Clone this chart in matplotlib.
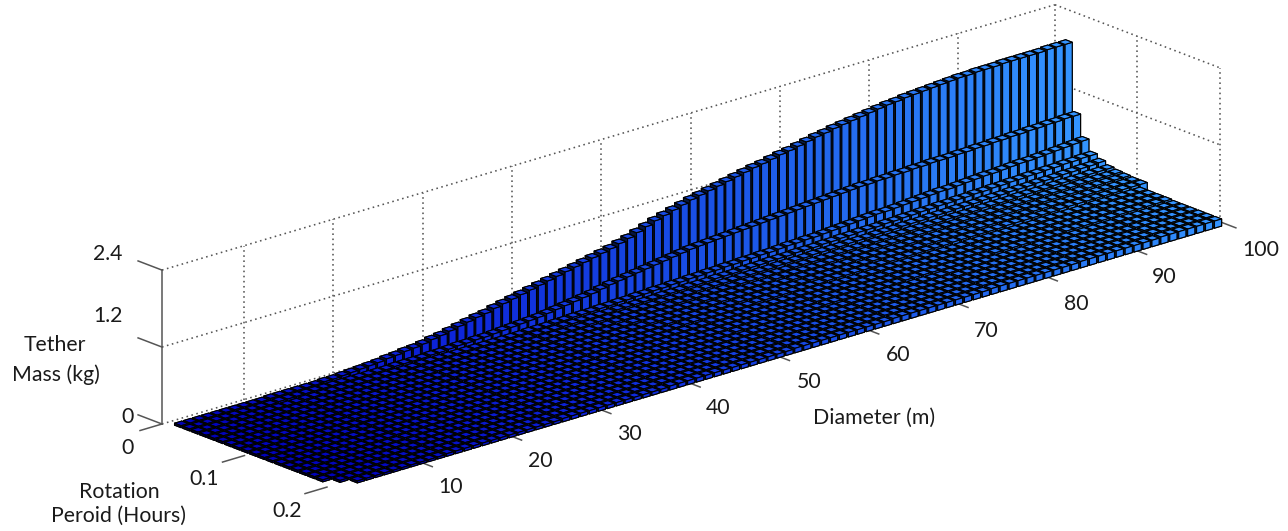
import matplotlib
matplotlib.use("Agg")
import matplotlib.pyplot as plt
import numpy as np
from matplotlib.colors import LinearSegmentedColormap
from mpl_toolkits.mplot3d import proj3d

# rotation period (hours) of each row of bars
period = [0.0127, 0.0228, 0.0329, 0.0430, 0.0531, 0.0632, 0.0733, 0.0834, 0.0935, 0.1036,
          0.1137, 0.1238, 0.1339, 0.1440, 0.1541, 0.1642, 0.1743, 0.1844, 0.1945, 0.2046]
# diameter (m) of each column of bars, the front rows stop at 99
diameter = list(range(1, 101))

# tether mass, in hundredths of a kg
row_01 = [3, 3, 3, 3, 3, 3, 3, 3, 3, 3, 4, 4, 4, 4, 4, 4, 5, 5, 6, 7,
          8, 9, 10, 12, 13, 15, 16, 18, 21, 23, 26, 29, 32, 35, 37, 41, 44, 47, 50, 53,
          56, 59, 62, 65, 68, 71, 74, 77, 80, 84, 88, 93, 98, 103, 107, 111, 115, 119, 122, 125,
          128, 131, 134, 137, 140, 142, 145, 148, 150, 153, 156, 159, 161, 164, 166, 168, 170, 172, 174, 176,
          177, 179, 180, 181, 182, 183, 184, 185, 185, 186, 186, 186, 187, 187, 187, 187, 187, 188, 188, 188]
row_02 = [3, 3, 3, 3, 3, 3, 3, 3, 3, 3, 4, 4, 4, 4, 4, 4, 4, 4, 4, 4,
          4, 4, 4, 5, 5, 5, 5, 6, 6, 7, 8, 8, 9, 9, 10, 11, 12, 13, 14, 15,
          17, 19, 21, 23, 25, 27, 30, 33, 35, 37, 39, 41, 43, 45, 47, 49, 51, 52, 53, 54,
          55, 56, 57, 58, 59, 60, 61, 62, 63, 64, 65, 66, 67, 68, 69, 70, 70, 71, 71, 72,
          72, 73, 73, 74, 74, 74, 75, 75, 76, 76, 77, 77, 78, 78, 79, 79, 80, 80, 81, 81]

# diameters 1 to 40 sit on the same low level for all the other rows
left_flat = [3, 3, 3, 3, 3, 3, 3, 3, 3, 3, 3, 3, 4, 4, 4, 4, 4, 4, 4, 4,
             4, 4, 4, 4, 4, 5, 5, 5, 5, 5, 5, 5, 5, 5, 5, 5, 5, 6, 6, 6]
# diameters 41 and up
right_03 = [7, 7, 8, 8, 8, 9, 9, 10, 10, 11, 11, 12, 12, 13, 13, 14, 14, 15, 15, 16,
            16, 17, 17, 18, 18, 19, 20, 20, 21, 21, 22, 23, 24, 25, 26, 27, 28, 28, 29, 30,
            31, 32, 33, 34, 34, 35, 36, 37, 38, 38, 39, 40, 41, 41, 42, 43, 44, 45, 46, 47]
right_04 = [7, 7, 7, 7, 7, 7, 8, 8, 8, 8, 8, 9, 9, 9, 10, 10, 10, 11, 11, 11,
            12, 12, 12, 13, 13, 13, 14, 14, 14, 15, 15, 16, 16, 17, 17, 17, 18, 18, 19, 19,
            20, 20, 21, 21, 22, 22, 23, 23, 24, 24, 25, 25, 26, 26, 27, 27, 28, 28, 29, 29]
right_05 = [6, 6, 7, 7, 7, 7, 7, 7, 7, 7, 8, 8, 8, 8, 9, 9, 9, 9, 9, 10,
            10, 10, 10, 11, 11, 11, 11, 12, 12, 12, 12, 13, 13, 13, 14, 14, 14, 15, 15, 15,
            16, 16, 16, 17, 17, 17, 18, 18, 18, 19, 19, 19, 20, 20, 20, 21, 21, 22, 22, 23]
right_06 = [6, 6, 6, 6, 7, 7, 7, 7, 7, 7, 7, 8, 8, 8, 8, 8, 8, 8, 9, 9,
            9, 9, 9, 9, 10, 10, 10, 10, 10, 11, 11, 11, 11, 12, 12, 12, 12, 13, 13, 13,
            13, 14, 14, 14, 14, 15, 15, 15, 15, 16, 16, 16, 16, 17, 17, 17, 17, 18, 18, 18]
right_07 = [6, 6, 6, 6, 6, 7, 7, 7, 7, 7, 7, 7, 7, 8, 8, 8, 8, 8, 8, 8,
            8, 9, 9, 9, 9, 9, 9, 10, 10, 10, 10, 10, 11, 11, 11, 11, 11, 12, 12, 12,
            12, 12, 13, 13, 13, 13, 14, 14, 14, 14, 14, 15, 15, 15, 15, 16, 16, 16, 16, 16]
right_08 = [6, 6, 6, 6, 6, 6, 7, 7, 7, 7, 7, 7, 7, 7, 8, 8, 8, 8, 8, 8,
            8, 8, 9, 9, 9, 9, 9, 9, 9, 10, 10, 10, 10, 10, 10, 11, 11, 11, 11, 11,
            12, 12, 12, 12, 12, 13, 13, 13, 13, 13, 14, 14, 14, 14, 14, 15, 15, 15, 15, 15]
right_09 = [6, 6, 6, 6, 6, 6, 6, 7, 7, 7, 7, 7, 7, 7, 7, 8, 8, 8, 8, 8,
            8, 8, 8, 9, 9, 9, 9, 9, 9, 9, 10, 10, 10, 10, 10, 10, 11, 11, 11, 11,
            11, 11, 12, 12, 12, 12, 12, 12, 13, 13, 13, 13, 13, 13, 14, 14, 14, 14, 14, 14]
right_10 = [6, 6, 6, 6, 6, 6, 6, 6, 7, 7, 7, 7, 7, 7, 7, 7, 8, 8, 8, 8,
            8, 8, 8, 8, 9, 9, 9, 9, 9, 9, 9, 10, 10, 10, 10, 10, 10, 10, 11, 11,
            11, 11, 11, 11, 12, 12, 12, 12, 12, 12, 13, 13, 13, 13, 13, 13, 13, 14, 14, 14]
right_mid = [6, 6, 6, 6, 6, 6, 6, 6, 6, 6, 7, 7, 7, 7, 7, 7, 7, 7, 7, 7,
             8, 8, 8, 8, 8, 8, 8, 8, 8, 9, 9, 9, 9, 9, 9, 9, 9, 9, 9, 10,
             10, 10, 10, 10, 10, 10, 10, 11, 11, 11, 11, 11, 11, 12, 12, 12, 12, 12, 12]
right_far = [6, 6, 6, 6, 6, 6, 6, 6, 6, 6, 6, 7, 7, 7, 7, 7, 7, 7, 7, 7,
             7, 7, 8, 8, 8, 8, 8, 8, 8, 8, 8, 8, 8, 9, 9, 9, 9, 9, 9, 9,
             9, 9, 9, 10, 10, 10, 10, 10, 10, 10, 10, 10, 11, 11, 11, 11, 11, 11, 11]

mass_rows = [
    row_01, row_02,
    left_flat + right_03, left_flat + right_04, left_flat + right_05, left_flat + right_06,
    left_flat + right_07, left_flat + right_08, left_flat + right_09, left_flat + right_10,
    left_flat + right_mid, left_flat + right_mid, left_flat + right_mid, left_flat + right_mid,
    left_flat + right_far, left_flat + right_far, left_flat + right_far, left_flat + right_far,
    # the front left corner of the block has no bars
    [None] + left_flat[1:] + right_far,
    [None, None] + left_flat[2:] + right_far,
]

diameter_ticks = [10, 20, 30, 40, 50, 60, 70, 80, 90, 100]
wall_grid = [9.2, 19.2, 29.2, 39.2, 49.2, 59.2, 69.2, 79.2, 89.2, 100]
period_ticks = [0, 0.1, 0.2]
mass_ticks = [0, 1.2, 2.4]

W, H = 1288, 531
GREY = "#555555"
DOTS = (0, (1, 2.2))

fig = plt.figure(figsize=(W / 100, H / 100), dpi=100)
ax = fig.add_axes([0, 0, H / W, 1], projection="3d", proj_type="ortho", computed_zorder=False)
ax.view_init(elev=19.7, azim=-131.4)
ax.set_box_aspect((1190.5, 249.5, 163.5))
ax.set_xlim(0, 100, view_margin=0)
ax.set_ylim(0.2, 0, view_margin=0)  # bar3 style reversed axis
ax.set_zlim(0, 2.4, view_margin=0)
ax.set_axis_off()


def to_px(x, y, z):
    px, py, _ = proj3d.proj_transform(x, y, z, ax.get_proj())
    return ax.transData.transform((px, py))


# fit the box on the corners measured in the reference
p0 = to_px(0, 0.2, 0)
p1 = to_px(100, 0.2, 0)
side = H * np.hypot(893, 265) / np.hypot(*(p1 - p0))
ax.set_position([0, 0, side / W, side / H])
shift = np.array([162, H - 424]) - to_px(0, 0, 0)
ax.set_position([shift[0] / W, shift[1] / H, side / W, side / H])

# dotted walls
for d in wall_grid:
    ax.plot3D([d, d], [0, 0], [0, 2.4], color=GREY, lw=1.15, ls=DOTS, zorder=1)
for t in period_ticks[1:]:
    ax.plot3D([100, 100], [t, t], [0, 2.4], color=GREY, lw=1.15, ls=DOTS, zorder=1)
for m in mass_ticks:
    ax.plot3D([0, 100], [0, 0], [m, m], color=GREY, lw=1.15, ls=DOTS, zorder=1)
    ax.plot3D([100, 100], [0, 0.2], [m, m], color=GREY, lw=1.15, ls=DOTS, zorder=1)

# axis line and ticks
ax.plot3D([0, 0], [0, 0], [0, 2.4], color=GREY, lw=1.1, zorder=1)
for m in mass_ticks:
    ax.plot3D([0, 0], [0, -0.029], [m, m], color=GREY, lw=1.1, zorder=1)
for t in period_ticks:
    ax.plot3D([0, -2.46], [t, t], [0, 0], color=GREY, lw=1.1, zorder=1)
for d in diameter_ticks:
    ax.plot3D([d, d], [0.2, 0.2194], [0, 0], color=GREY, lw=1.1, zorder=1)

# every column has its own colour, dark at small diameters
blues = LinearSegmentedColormap.from_list(
    "tether", [(0.0, (0.0, 0.0, 0.72)), (0.3, (0.05, 0.14, 0.85)),
               (0.6, (0.10, 0.32, 0.90)), (1.0, (0.20, 0.58, 1.0))])

# back rows first, far columns first, so the bars overlap as in the reference
order = 2
for t, masses in zip(period, mass_rows):
    for d, m in reversed(list(zip(diameter, masses))):
        if m is None:
            continue
        c = np.array(blues(d / 100.0))
        dark = c * [0.28, 0.28, 0.28, 1]
        faces = [c, c, c, c, dark, dark]
        ax.bar3d(d - 0.4, t - 0.004, 0, 0.8, 0.008, m / 100.0, color=faces, shade=False,
                 edgecolor="black", linewidth=0.8, zorder=order)
        order += 1


def label(x, y, s):
    fig.text(x / W, 1 - y / H, s, ha="center", va="center", family="Lato", size=15.3, color="#1a1a1a")


for x, y, s in zip([451, 540, 629, 718, 809, 898, 986, 1076, 1164, 1261],
                   [487, 461, 434, 408, 382, 355, 331, 304, 277, 250], diameter_ticks):
    label(x, y, str(s))
for x, y, s in zip([128, 204, 287], [448, 479, 511], period_ticks):
    label(x, y, str(s))
for x, y, s in zip([128, 108, 108], [417, 316, 254], mass_ticks):
    label(x, y, str(s))
label(874, 418, "Diameter (m)")
label(55, 345, "Tether")
label(56, 375, "Mass (kg)")
label(119, 492, "Rotation")
label(119, 516, "Peroid (Hours)")

fig.savefig("out.png", dpi=100)
